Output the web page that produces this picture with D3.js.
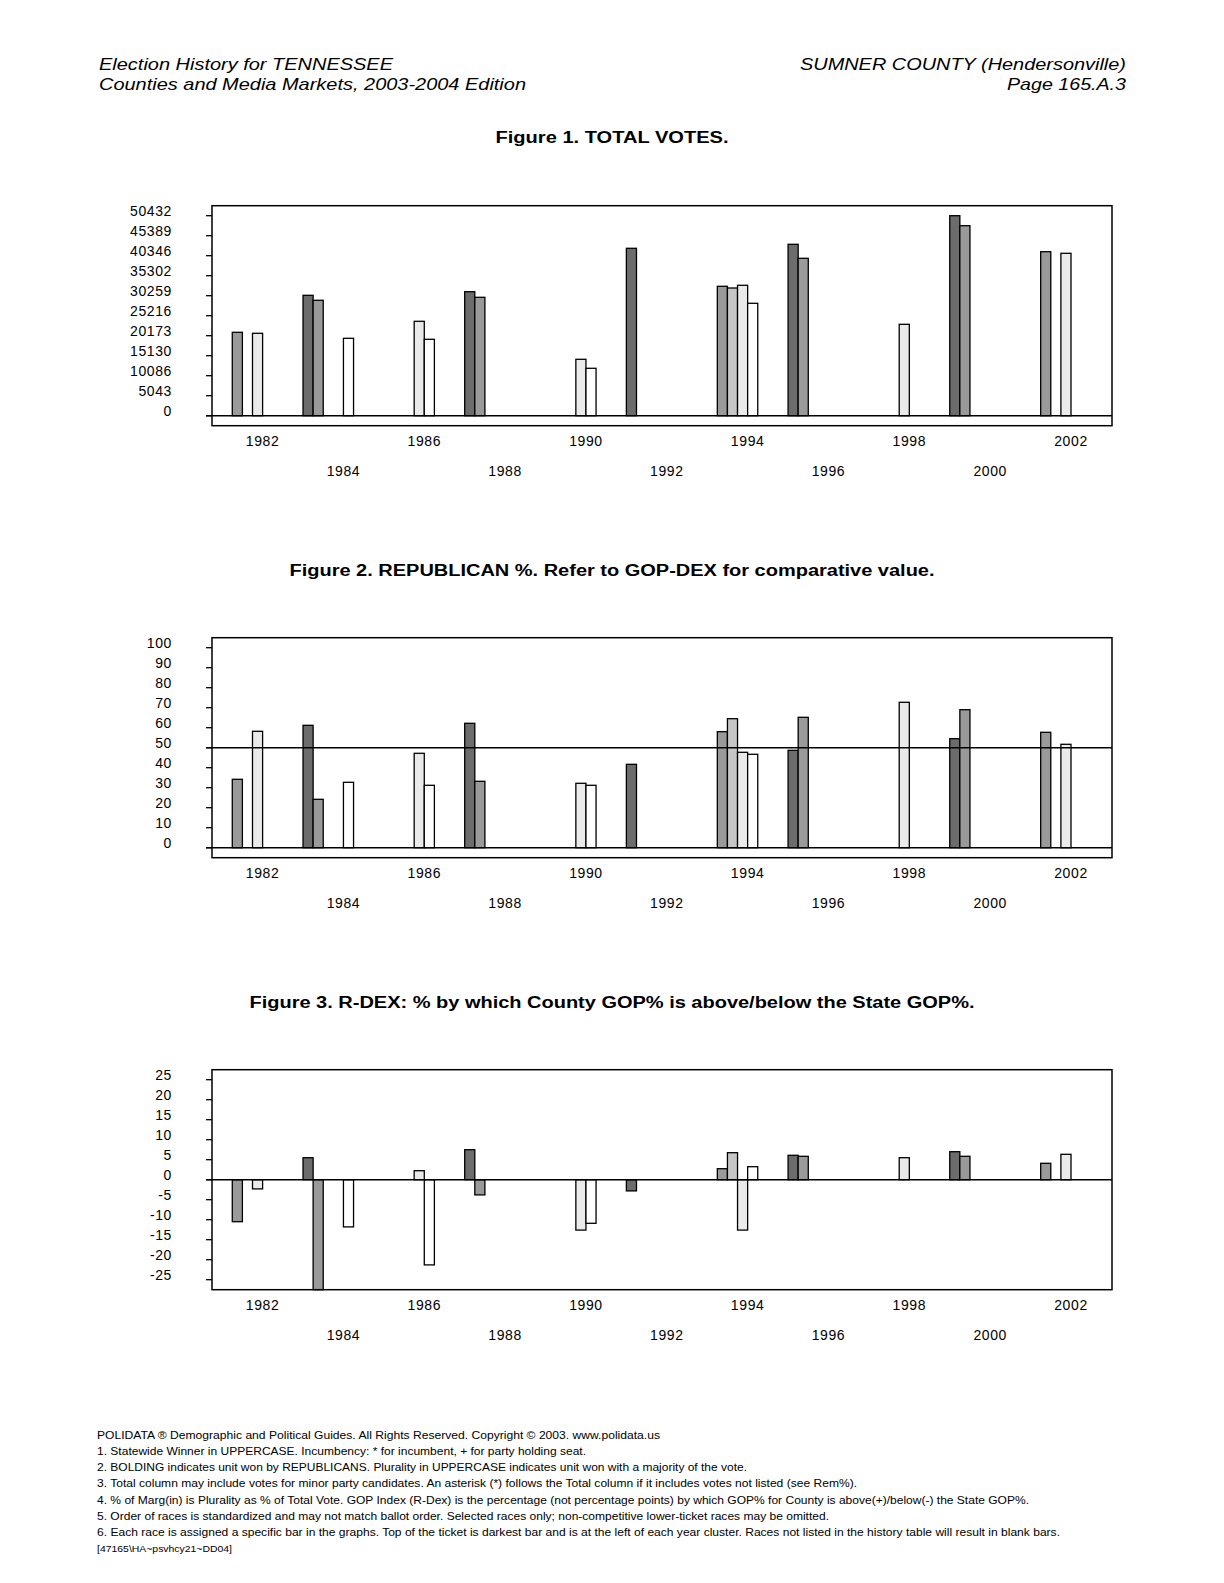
<!DOCTYPE html>
<html><head><meta charset="utf-8">
<script src="https://cdn.jsdelivr.net/npm/d3@7"></script>
<style>
body{margin:0;background:#fff}
text{font-family:"Liberation Sans",Arial,Helvetica,sans-serif;fill:#000}
</style>
</head><body>
<svg id="page" width="1224" height="1583"></svg>
<script>
// ---------- DATA ----------
const years = [1982, 1984, 1986, 1988, 1990, 1992, 1994, 1996, 1998, 2000, 2002];
const axisYearsRow1 = [1982, 1986, 1990, 1994, 1998, 2002];
const axisYearsRow2 = [1984, 1988, 1992, 1996, 2000];

// Figure 1: total votes, five races per year (darkest = top of ticket)
const votesRace1 = [null, 30360, null, 31268, null, 42212, null, 43220, null, 50432, null];
const votesRace2 = [21030, 29099, null, 29856, null, null, 32630, 39690, null, 47910, 41354];
const votesRace3 = [null, null, null, null, null, null, 32201, null, null, null, null];
const votesRace4 = [20778, null, 23804, null, 14222, null, 32882, null, 23047, null, 40951];
const votesRace5 = [null, 19517, 19265, null, 11952, null, 28343, null, null, null, null];
const votesTicks = [0, 5043, 10086, 15130, 20173, 25216, 30259, 35302, 40346, 45389, 50432];

// Figure 2: Republican %
const gopRace1 = [null, 61.2, null, 62.2, null, 41.7, null, 48.7, null, 54.5, null];
const gopRace2 = [34.2, 24.2, null, 33.2, null, null, 58.0, 65.2, null, 69.0, 57.7];
const gopRace3 = [null, null, null, null, null, null, 64.5, null, null, null, null];
const gopRace4 = [58.2, null, 47.2, null, 32.2, null, 47.7, null, 72.7, null, 51.7];
const gopRace5 = [null, 32.7, 31.2, null, 31.2, null, 46.7, null, null, null, null];
const gopTicks = [0, 10, 20, 30, 40, 50, 60, 70, 80, 90, 100];

// Figure 3: R-DEX
const rdexRace1 = [null, 5.5, null, 7.5, null, -2.8, null, 6.1, null, 7.0, null];
const rdexRace2 = [-10.5, -29.0, null, -3.8, null, null, 2.75, 5.85, null, 5.85, 4.1];
const rdexRace3 = [null, null, null, null, null, null, 6.75, null, null, null, null];
const rdexRace4 = [-2.3, null, 2.25, null, -12.6, null, -12.6, null, 5.5, null, 6.35];
const rdexRace5 = [null, -11.8, -21.3, null, -10.9, null, 3.25, null, null, null, null];
const rdexTicks = [-25, -20, -15, -10, -5, 0, 5, 10, 15, 20, 25];

const raceColors = ["#6c6c6c", "#9a9a9a", "#c6c6c6", "#eaeaea", "#ffffff"];

const headerLeft = ["Election History for TENNESSEE", "Counties and Media Markets, 2003-2004 Edition"];
const headerRight = ["SUMNER COUNTY (Hendersonville)", "Page 165.A.3"];
const footerLines = [
  "POLIDATA \u00AE Demographic and Political Guides. All Rights Reserved. Copyright \u00A9 2003. www.polidata.us",
  "1. Statewide Winner in UPPERCASE. Incumbency: * for incumbent, + for party holding seat.",
  "2. BOLDING indicates unit won by REPUBLICANS. Plurality in UPPERCASE indicates unit won with a majority of the vote.",
  "3. Total column may include votes for minor party candidates. An asterisk (*) follows the Total column if it includes votes not listed (see Rem%).",
  "4. % of Marg(in) is Plurality as % of Total Vote. GOP Index (R-Dex) is the percentage (not percentage points) by which GOP% for County is above(+)/below(-) the State GOP%.",
  "5. Order of races is standardized and may not match ballot order. Selected races only; non-competitive lower-ticket races may be omitted.",
  "6. Each race is assigned a specific bar in the graphs. Top of the ticket is darkest bar and is at the left of each year cluster. Races not listed in the history table will result in blank bars."
];
const footerCode = "[47165\\HA~psvhcy21~DD04]";

// ---------- LAYOUT ----------
const svg = d3.select("#page");
const boxLeft = 212, boxRight = 1112, boxH = 220;
const x = d3.scaleLinear().domain([1982, 2002]).range([boxLeft + 50.6, boxLeft + 859]);
const slot = (x(1984) - x(1982)) / 8;

function txt(s, px, py, opts) {
  const t = svg.append("text").attr("x", px).attr("y", py).text(s);
  Object.entries(opts || {}).forEach(([k, v]) => t.attr(k, v));
  return t;
}

// header
txt(headerLeft[0], 99, 70, {"font-size": 16.5, "font-style": "italic", textLength: 294, lengthAdjust: "spacingAndGlyphs"});
txt(headerLeft[1], 99, 90, {"font-size": 16.5, "font-style": "italic", textLength: 427, lengthAdjust: "spacingAndGlyphs"});
txt(headerRight[0], 1126, 70, {"font-size": 16.5, "font-style": "italic", "text-anchor": "end", textLength: 326, lengthAdjust: "spacingAndGlyphs"});
txt(headerRight[1], 1126, 90, {"font-size": 16.5, "font-style": "italic", "text-anchor": "end", textLength: 119, lengthAdjust: "spacingAndGlyphs"});

function drawChart(cfg) {
  const top = cfg.top, bottom = top + boxH;
  const step = cfg.ticks[1] - cfg.ticks[0];
  const lo = d3.min(cfg.ticks) - step / 2, hi = d3.max(cfg.ticks) + step / 2;
  const y = d3.scaleLinear().domain([lo, hi]).range([bottom, top]).clamp(true);
  const g = svg.append("g");

  // title
  g.append("text").attr("x", 612).attr("y", cfg.titleY).attr("text-anchor", "middle")
    .attr("font-size", 16).attr("font-weight", "bold")
    .attr("textLength", cfg.titleW).attr("lengthAdjust", "spacingAndGlyphs").text(cfg.title);

  // bars
  cfg.series.forEach((vals, i) => {
    g.selectAll(null).data(years.map((yr, k) => ({yr, v: vals[k]})).filter(d => d.v !== null))
      .enter().append("rect")
      .attr("x", d => x(d.yr) + (i - 4) * slot)
      .attr("width", slot)
      .attr("y", d => Math.min(y(d.v), y(0)))
      .attr("height", d => Math.abs(y(d.v) - y(0)))
      .attr("fill", raceColors[i]).attr("stroke", "#000").attr("stroke-width", 1.3);
  });

  // box
  g.append("rect").attr("x", boxLeft).attr("y", top).attr("width", boxRight - boxLeft).attr("height", boxH)
    .attr("fill", "none").attr("stroke", "#000").attr("stroke-width", 1.5);

  // reference lines
  cfg.refLines.forEach(v => {
    g.append("line").attr("x1", boxLeft - 6).attr("x2", boxRight).attr("y1", y(v)).attr("y2", y(v))
      .attr("stroke", "#000").attr("stroke-width", 1.5);
  });

  // y axis ticks + labels
  cfg.ticks.forEach(t => {
    g.append("line").attr("x1", boxLeft - 6).attr("x2", boxLeft).attr("y1", y(t)).attr("y2", y(t))
      .attr("stroke", "#000").attr("stroke-width", 1.3);
    g.append("text").attr("x", 172).attr("y", y(t)).attr("text-anchor", "end")
      .attr("font-size", 14).attr("letter-spacing", 0.6).text(t);
  });

  // x labels
  axisYearsRow1.forEach(yr => {
    g.append("text").attr("x", x(yr)).attr("y", bottom + 19.8).attr("text-anchor", "middle")
      .attr("font-size", 14).attr("letter-spacing", 0.6).text(yr);
  });
  axisYearsRow2.forEach(yr => {
    g.append("text").attr("x", x(yr)).attr("y", bottom + 49.8).attr("text-anchor", "middle")
      .attr("font-size", 14).attr("letter-spacing", 0.6).text(yr);
  });
}

drawChart({top: 205.7, titleY: 143, titleW: 233, title: "Figure 1. TOTAL VOTES.",
  ticks: votesTicks, refLines: [0],
  series: [votesRace1, votesRace2, votesRace3, votesRace4, votesRace5]});
drawChart({top: 637.7, titleY: 575.5, titleW: 645, title: "Figure 2. REPUBLICAN %. Refer to GOP-DEX for comparative value.",
  ticks: gopTicks, refLines: [0, 50],
  series: [gopRace1, gopRace2, gopRace3, gopRace4, gopRace5]});
drawChart({top: 1069.7, titleY: 1008, titleW: 725, title: "Figure 3. R-DEX: % by which County GOP% is above/below the State GOP%.",
  ticks: rdexTicks, refLines: [0],
  series: [rdexRace1, rdexRace2, rdexRace3, rdexRace4, rdexRace5]});

// footer
const footerW = [563, 489, 650, 760, 932, 732, 963];
footerLines.forEach((s, i) => {
  txt(s, 97, 1439 + i * 16.15, {"font-size": 11, textLength: footerW[i], lengthAdjust: "spacingAndGlyphs"});
});
txt(footerCode, 97, 1439 + 7 * 16.15, {"font-size": 9, textLength: 135, lengthAdjust: "spacingAndGlyphs"});
</script>
</body></html>
